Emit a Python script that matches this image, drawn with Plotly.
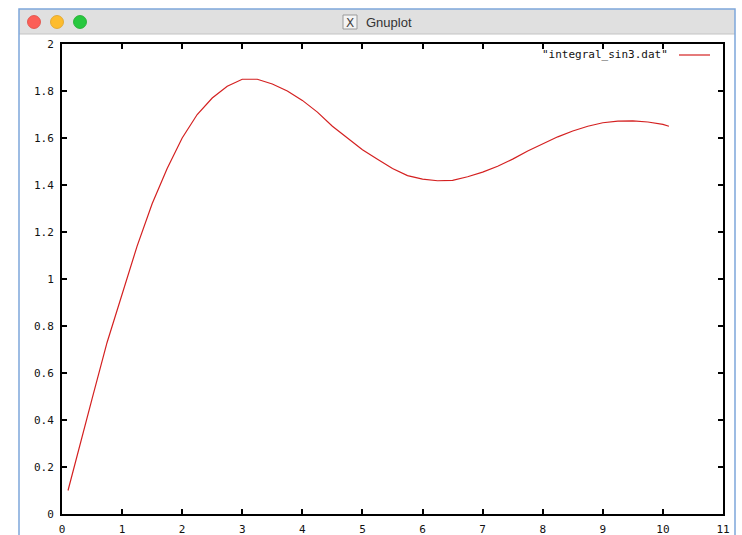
import plotly.graph_objects as go

# ---- data ----
x_vals = [0.1, 0.25, 0.5, 0.75, 1.0, 1.25, 1.5, 1.75, 2.0, 2.25, 2.5, 2.75, 3.0, 3.25,
          3.5, 3.75, 4.0, 4.25, 4.5, 4.75, 5.0, 5.25, 5.5, 5.75, 6.0, 6.25, 6.5, 6.75,
          7.0, 7.25, 7.5, 7.75, 8.0, 8.25, 8.5, 8.75, 9.0, 9.25, 9.5, 9.75, 10.0, 10.1]
y_vals = [0.10, 0.25, 0.49, 0.73, 0.94, 1.14, 1.32, 1.47, 1.60, 1.70, 1.77, 1.82, 1.85, 1.85,
          1.83, 1.80, 1.76, 1.71, 1.65, 1.60, 1.55, 1.51, 1.47, 1.44, 1.425, 1.418, 1.42, 1.435,
          1.455, 1.48, 1.51, 1.545, 1.575, 1.605, 1.63, 1.65, 1.665, 1.672, 1.673, 1.668, 1.658, 1.65]
x_ticks = [0, 1, 2, 3, 4, 5, 6, 7, 8, 9, 10, 11]
x_tick_labels = ["0", "1", "2", "3", "4", "5", "6", "7", "8", "9", "10", "11"]
y_ticks = [0, 0.2, 0.4, 0.6, 0.8, 1.0, 1.2, 1.4, 1.6, 1.8, 2.0]
y_tick_labels = ["0", "0.2", "0.4", "0.6", "0.8", "1", "1.2", "1.4", "1.6", "1.8", "2"]
series_name = '"integral_sin3.dat"'
window_title = "Gnuplot"

W, H = 742, 535
L, R, T, B = 62, 723, 44, 514  # plot area in pixels


def px(x):
    return (x - L) / (R - L)


def py(y):
    return (B - y) / (B - T)


MONO = "DejaVu Sans Mono"
LINE_COLOR = "#d42020"

fig = go.Figure()
fig.add_trace(go.Scatter(x=x_vals, y=y_vals, mode="lines",
                         line=dict(color=LINE_COLOR, width=1.2),
                         showlegend=False, name=series_name))

shapes = []
# window frame
shapes.append(dict(type="rect", xref="paper", yref="paper",
                   x0=px(19), x1=px(735), y0=py(9), y1=py(34),
                   fillcolor="#e0e0e0", line=dict(width=0), layer="below"))
shapes.append(dict(type="line", xref="paper", yref="paper",
                   x0=px(19), x1=px(735), y0=py(34), y1=py(34),
                   line=dict(color="#c4c4c4", width=1)))
shapes.append(dict(type="rect", xref="paper", yref="paper",
                   x0=px(19), x1=px(735), y0=py(9), y1=py(560),
                   fillcolor="rgba(0,0,0,0)", line=dict(color="#7ea6da", width=1.5)))
# traffic lights
for cx, fill, edge in [(34, "#fc5f57", "#de4a41"), (57, "#fdbc2e", "#dea123"), (80, "#28c840", "#1aab29")]:
    shapes.append(dict(type="circle", xref="paper", yref="paper",
                       x0=px(cx - 6.5), x1=px(cx + 6.5), y0=py(22 - 6.5), y1=py(22 + 6.5),
                       fillcolor=fill, line=dict(color=edge, width=0.8)))
# X icon box
shapes.append(dict(type="rect", xref="paper", yref="paper",
                   x0=px(343), x1=px(357), y0=py(15), y1=py(29),
                   fillcolor="#f4f4f4", line=dict(color="#9a9a9a", width=1)))
# legend sample line
shapes.append(dict(type="line", xref="paper", yref="paper",
                   x0=px(679), x1=px(710), y0=py(55), y1=py(55),
                   line=dict(color=LINE_COLOR, width=1.2)))

annotations = [
    dict(xref="paper", yref="paper", x=px(350), y=py(22.5), text="X", showarrow=False,
         font=dict(family="DejaVu Sans", size=12, color="#444444"), xanchor="center", yanchor="middle"),
    dict(xref="paper", yref="paper", x=px(364), y=py(22), text=window_title, showarrow=False,
         font=dict(family="Liberation Sans", size=13, color="#333333"), xanchor="left", yanchor="middle"),
    dict(xref="paper", yref="paper", x=px(670), y=py(55), text=series_name, showarrow=False,
         font=dict(family=MONO, size=11, color="#111111"), xanchor="right", yanchor="middle"),
]

axis_common = dict(showline=True, linecolor="black", linewidth=2, mirror="ticks",
                   ticks="inside", ticklen=5, tickwidth=2, tickcolor="black",
                   showgrid=False, zeroline=False, automargin=False,
                   tickfont=dict(family=MONO, size=11, color="#111111"))

fig.update_layout(
    width=W, height=H, autosize=False,
    margin=dict(l=L, r=W - R, t=T, b=H - B, pad=0, autoexpand=False),
    paper_bgcolor="white", plot_bgcolor="white",
    xaxis=dict(range=[0, 11], tickvals=x_ticks, ticktext=x_tick_labels,
               ticklabelstandoff=4, **axis_common),
    yaxis=dict(range=[0, 2], tickvals=y_ticks, ticktext=y_tick_labels,
               ticklabelstandoff=4, **axis_common),
    shapes=shapes, annotations=annotations,
)

fig.write_html("out.html", config={"displayModeBar": False},
               post_script="document.body.style.margin='0';document.body.style.overflow='hidden';")
